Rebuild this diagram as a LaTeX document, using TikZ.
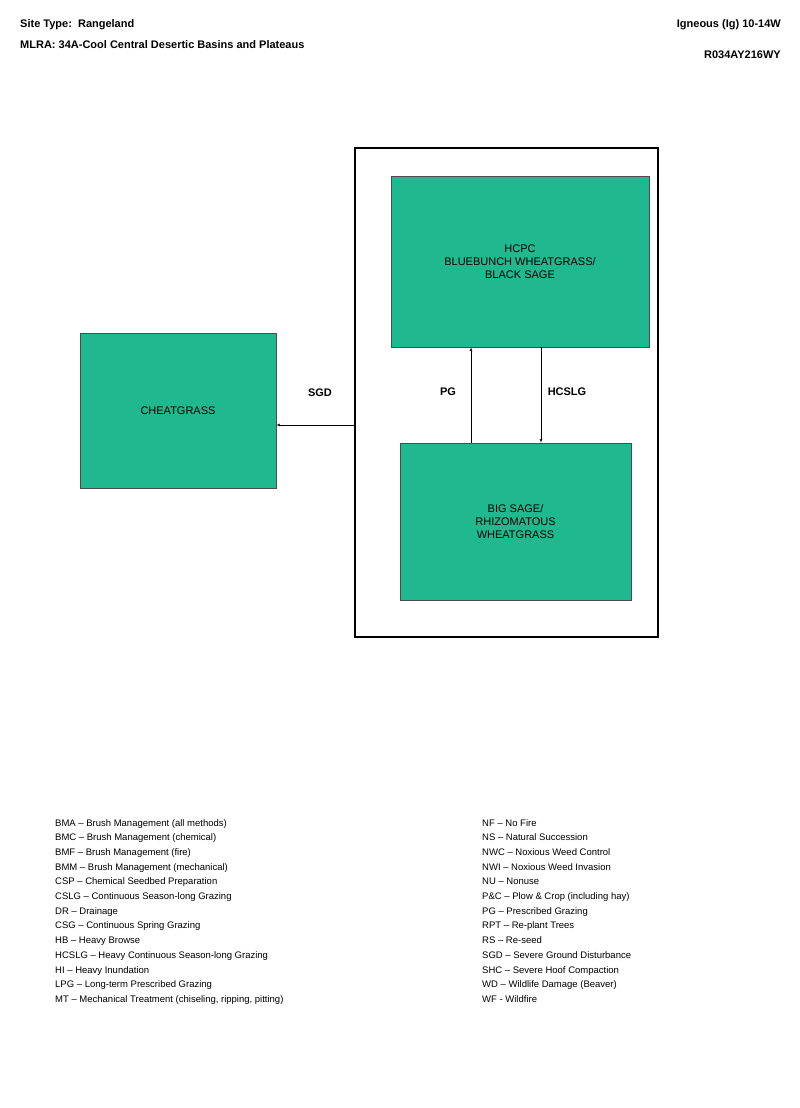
\documentclass[tikz,border=0pt]{standalone}
\usepackage{fontspec}
\setmainfont{Liberation Sans}
\usetikzlibrary{arrows}
\definecolor{stategreen}{HTML}{20B88E}
\tikzstyle{every node}+=[inner sep=0pt]
\tikzstyle{state} = [rectangle, draw=black!70, fill=stategreen, font=\fontsize{11}{13}\selectfont, align=center]
\tikzstyle{line} = [draw, -latex']
\tikzstyle{label} = [font=\bfseries\fontsize{11}{13}\selectfont]
\tikzstyle{legend} = [font=\fontsize{9.5}{14.7}\selectfont, align=left, anchor=north west]
\begin{document}
\begin{tikzpicture}[x=1pt, y=-1pt]
  \useasboundingbox[fill=white] (0,0) rectangle (800,1108);
  % Header
  \node [label, anchor=west] (site) at (20,25) {Site Type:\ \ Rangeland};
  \node [label, anchor=west] (mlra) at (20,45) {MLRA: 34A-Cool Central Desertic Basins and Plateaus};
  \node [label, anchor=east] (ig) at (781,25) {Igneous (Ig) 10-14W};
  \node [label, anchor=east] (id) at (781,55) {R034AY216WY};
  % Place nodes
  \draw [line width=2.2pt] (355,148) rectangle (658,637);
  \coordinate (gate) at (355,425);
  \node [state, minimum width=258pt, minimum height=171pt] (hcpc) at (520,261.5) {HCPC\\BLUEBUNCH WHEATGRASS/\\BLACK SAGE};
  \node [state, minimum width=231pt, minimum height=157pt] (bigsage) at (515.5,521.5) {BIG SAGE/\\RHIZOMATOUS\\WHEATGRASS};
  \node [state, minimum width=196pt, minimum height=155pt] (cheat) at (178,410.5) {CHEATGRASS};
  % Draw edges
  \path [line] (gate) -- (cheat.east |- gate);
  \path [line] (bigsage.north -| 471,0) -- (hcpc.south -| 471,0);
  \path [line] (hcpc.south -| 541,0) -- (bigsage.north -| 541,0);
  \node [label] (sgd) at (320,393) {SGD};
  \node [label] (pg) at (448,392) {PG};
  \node [label] (hcslg) at (567,392) {HCSLG};
  % Legend
  \node [legend] (legl) at (55,819) {BMA -- Brush Management (all methods)\\
BMC -- Brush Management (chemical)\\
BMF -- Brush Management (fire)\\
BMM -- Brush Management (mechanical)\\
CSP -- Chemical Seedbed Preparation\\
CSLG -- Continuous Season-long Grazing\\
DR -- Drainage\\
CSG -- Continuous Spring Grazing\\
HB -- Heavy Browse\\
HCSLG -- Heavy Continuous Season-long Grazing\\
HI -- Heavy Inundation\\
LPG -- Long-term Prescribed Grazing\\
MT -- Mechanical Treatment (chiseling, ripping, pitting)};
  \node [legend] (legr) at (482,819) {NF -- No Fire\\
NS -- Natural Succession\\
NWC -- Noxious Weed Control\\
NWI -- Noxious Weed Invasion\\
NU -- Nonuse\\
P\&C -- Plow \& Crop (including hay)\\
PG -- Prescribed Grazing\\
RPT -- Re-plant Trees\\
RS -- Re-seed\\
SGD -- Severe Ground Disturbance\\
SHC -- Severe Hoof Compaction\\
WD -- Wildlife Damage (Beaver)\\
WF - Wildfire};
\end{tikzpicture}
\end{document}
